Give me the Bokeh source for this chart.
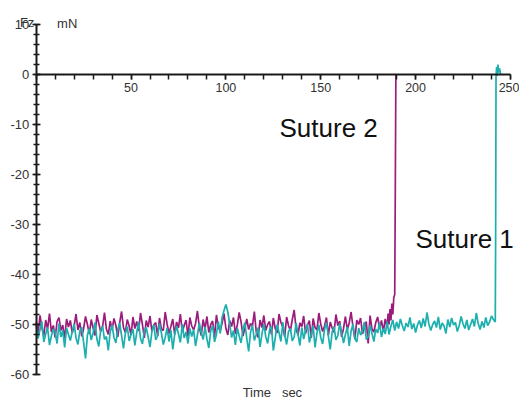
from bokeh.plotting import figure
from bokeh.models import Range1d, FixedTicker, Label
from bokeh.embed import file_html
from bokeh.resources import INLINE

# ---------------- data ----------------
# Suture 2 (purple): force in mN, sampled every second (t = 0..184 s)
purple_noise = [
    -49.5, -51.8, -48.2, -50.6, -52.3, -49.1, -50.9, -47.8, -51.5, -50.2, -52.6, -49.4, -48.6, -51.2, -50.1, -52.8, -48.9, -50.5, -49.2, -51.7,
    -50.3, -47.9, -51.1, -49.6, -52.4, -50.8, -48.4, -50.0, -51.9, -49.0, -50.7, -52.2, -48.1, -49.8, -51.4, -50.4, -47.6, -50.9, -52.0, -49.3,
    -51.0, -48.8, -50.2, -52.5, -49.7, -47.4, -50.6, -51.6, -49.0, -50.3, -52.1, -48.5, -50.8, -49.4, -51.3, -47.7, -50.0, -52.7, -49.2, -50.5,
    -48.3, -51.4, -50.1, -49.6, -52.3, -48.7, -50.9, -51.2, -47.5, -49.9, -51.8, -50.4, -48.9, -52.0, -49.5, -50.7, -47.9, -51.5, -50.2, -49.1,
    -52.4, -48.6, -50.3, -51.1, -49.8, -47.3, -50.6, -52.2, -49.0, -50.9, -48.4, -51.6, -50.0, -49.3, -52.6, -48.1, -50.5, -51.3, -49.7, -47.8,
    -50.8, -52.1, -49.2, -50.4, -48.6, -51.9, -50.1, -47.6, -49.5, -52.3, -50.7, -48.9, -51.0, -49.8, -50.3, -47.4, -51.5, -52.6, -49.1, -50.6,
    -48.2, -51.2, -50.0, -49.4, -52.0, -48.7, -50.8, -51.7, -47.9, -49.6, -50.5, -52.4, -48.5, -50.2, -51.3, -49.0, -47.1, -50.9, -52.1, -49.7,
    -50.4, -48.3, -51.8, -50.1, -49.2, -52.7, -48.8, -50.6, -51.1, -47.7, -49.9, -51.4, -50.3, -48.6, -52.2, -49.5, -50.7, -51.6, -48.0, -50.2,
    -49.3, -52.5, -50.8, -48.4, -51.0, -49.7, -47.5, -50.5, -52.9, -49.1, -50.0, -48.7, -51.9, -50.6, -49.4, -53.8, -48.2, -50.9, -51.5, -49.6,
    -48.5, -50.8, -49.2, -51.4, -48.9,
]
# rising part just before Suture 2 breaks, and the break itself
purple_rupture_time = [185.0, 185.5, 186.0, 186.5, 187.0, 187.5, 188.0, 188.5, 189.0, 189.3, 189.6]
purple_rupture_force = [-50.6, -47.8, -50.0, -46.9, -49.2, -45.8, -48.0, -44.6, -44.0, -23.0, 0.0]

# Suture 1 (teal): sampled every second (t = 0..241 s)
teal_noise = [
    -50.2, -52.8, -51.0, -49.4, -53.5, -51.9, -50.6, -54.1, -52.3, -50.9, -51.6, -53.8, -49.8, -52.5, -51.2, -54.6, -50.7, -52.0, -53.2, -51.4,
    -49.9, -52.7, -54.0, -51.3, -50.5, -53.6, -56.8, -52.1, -50.8, -53.1, -51.7, -49.6, -52.9, -54.4, -51.1, -50.3, -53.0, -52.4, -55.2, -51.5,
    -50.1, -52.6, -53.7, -51.0, -49.7, -52.2, -54.8, -51.8, -50.4, -53.3, -52.0, -50.9, -54.2, -51.6, -49.5, -52.8, -53.9, -51.2, -50.6, -52.5,
    -54.5, -51.4, -50.0, -53.1, -52.3, -49.8, -51.7, -54.0, -52.6, -50.7, -53.4, -51.1, -55.0, -52.0, -50.3, -51.9, -53.6, -49.9, -52.7, -51.5,
    -53.8, -50.8, -52.4, -51.0, -54.3, -52.1, -49.7, -51.6, -53.0, -50.5, -52.9, -54.7, -51.3, -50.2, -53.5, -52.0, -49.4, -51.8, -48.6, -47.2,
    -46.0, -47.5, -49.8, -52.6, -51.2, -54.1, -50.7, -52.3, -53.7, -51.0, -49.6, -52.8, -55.4, -51.5, -50.1, -53.2, -52.0, -50.6, -54.5, -51.9,
    -49.9, -52.4, -53.8, -51.1, -50.4, -55.2, -52.7, -50.0, -51.6, -53.4, -49.5, -52.1, -54.0, -51.4, -50.8, -53.3, -52.5, -49.7, -51.9, -54.2,
    -50.6, -52.9, -51.2, -49.9, -53.6, -52.0, -50.3, -54.6, -51.7, -50.1, -52.6, -53.9, -51.0, -49.6, -52.3, -55.0, -51.5, -50.4, -53.1, -52.2,
    -49.8, -51.6, -53.7, -52.0, -50.5, -54.3, -51.3, -49.9, -52.8, -53.5, -50.7, -52.1, -51.4, -49.5, -53.0, -52.4, -50.2, -51.8, -53.4, -50.9,
    -51.7, -49.6, -52.5, -50.8, -51.9, -49.4, -52.0, -50.3, -49.1, -51.2,
    -49.5, -50.8, -48.9, -50.2, -51.3, -49.7, -50.5, -48.6, -50.9, -49.8, -51.6, -50.1, -49.2, -50.7, -48.8, -50.4, -47.6, -49.9, -51.2, -50.0,
    -49.3, -50.6, -48.5, -51.0, -49.7, -50.3, -51.8, -49.0, -50.5, -48.7, -50.1, -49.6, -51.4, -50.2, -48.4, -49.9, -50.8, -49.1, -51.1, -50.0,
    -48.9, -50.4, -47.7, -49.8, -51.0, -49.4, -50.6, -48.6, -50.2, -49.5, -48.3, -49.0,
]
teal_rupture_time = [242.0, 242.2, 242.4, 242.7, 243.0, 243.4, 243.8, 244.3, 244.8]
teal_rupture_force = [-49.5, -32.0, -0.5, 1.5, -0.3, 2.0, 0.4, 1.2, 0.0]

x_major_ticks = [50, 100, 150, 200, 250]
x_minor_ticks = list(range(0, 251, 10))
y_major_ticks = [-60, -50, -40, -30, -20, -10, 0, 10]
y_minor_ticks = list(range(-60, 11, 2))

purple_time = list(range(len(purple_noise))) + purple_rupture_time
purple_force = purple_noise + purple_rupture_force
teal_time = list(range(len(teal_noise))) + teal_rupture_time
teal_force = teal_noise + teal_rupture_force

PURPLE = "#9c1c7c"
TEAL = "#1bafad"
AXIS = "#1a1a1a"
TICKFONT = "Liberation Sans"
NBSP = "\u00a0"

# ---------------- figure ----------------
# the frame fills the whole canvas; both axes are pinned at 0 inside it
p = figure(width=519, height=403,
           x_range=Range1d(-18.82, 254.77), y_range=Range1d(-65.8, 14.8),
           output_backend="svg", toolbar_location=None)
p.min_border = 0
p.grid.visible = False
p.outline_line_color = None
p.background_fill_color = "white"
p.border_fill_color = "white"

xa = p.xaxis[0]
xa.fixed_location = 0
xa.bounds = (0, 250)
xa.ticker = FixedTicker(ticks=x_major_ticks, minor_ticks=x_minor_ticks)
xa.axis_line_color = AXIS
xa.axis_line_width = 2
xa.major_tick_in = 0
xa.major_tick_out = 5
xa.minor_tick_in = 0
xa.minor_tick_out = 5
xa.major_tick_line_color = AXIS
xa.minor_tick_line_color = AXIS
xa.major_tick_line_width = 1.5
xa.minor_tick_line_width = 1.5
xa.major_label_standoff = 3
xa.major_label_text_font = TICKFONT
xa.major_label_text_font_size = "12.5px"
xa.major_label_text_color = "#333333"

ya = p.yaxis[0]
ya.fixed_location = 0
ya.bounds = (-60, 10)
ya.ticker = FixedTicker(ticks=y_major_ticks, minor_ticks=y_minor_ticks)
ya.axis_line_color = AXIS
ya.axis_line_width = 2
ya.major_tick_in = 4
ya.major_tick_out = 4
ya.minor_tick_in = 3
ya.minor_tick_out = 3
ya.major_tick_line_color = AXIS
ya.minor_tick_line_color = AXIS
ya.major_tick_line_width = 1.5
ya.minor_tick_line_width = 1.5
ya.major_label_standoff = 3
ya.major_label_text_font = TICKFONT
ya.major_label_text_font_size = "13px"
ya.major_label_text_color = "#333333"
ya.major_label_overrides = {t: str(t) for t in y_major_ticks}

p.line(purple_time, purple_force, line_color=PURPLE, line_width=1.7)
p.line(teal_time, teal_force, line_color=TEAL, line_width=1.7)

def add_label(x, y, text, font, size, color, align="left"):
    p.add_layout(Label(x=x, y=y, text=text, text_font=font, text_font_size=size,
                       text_color=color, text_align=align, text_baseline="alphabetic"))

add_label(-8.6, 10.46, "Fz", TICKFONT, "13px", "#333333")
add_label(11.0, 10.26, "mN", TICKFONT, "13px", "#333333")
add_label(124.5, -63.6, "Time" + NBSP * 3 + "sec", TICKFONT, "13px", "#333333", align="center")
add_label(128.25, -10.6, "Suture 2", "Liberation Sans", "26px", "#111111")
add_label(199.95, -32.8, "Suture 1", "Liberation Sans", "26px", "#111111")

open("out.html", "w").write(file_html(p, INLINE))
